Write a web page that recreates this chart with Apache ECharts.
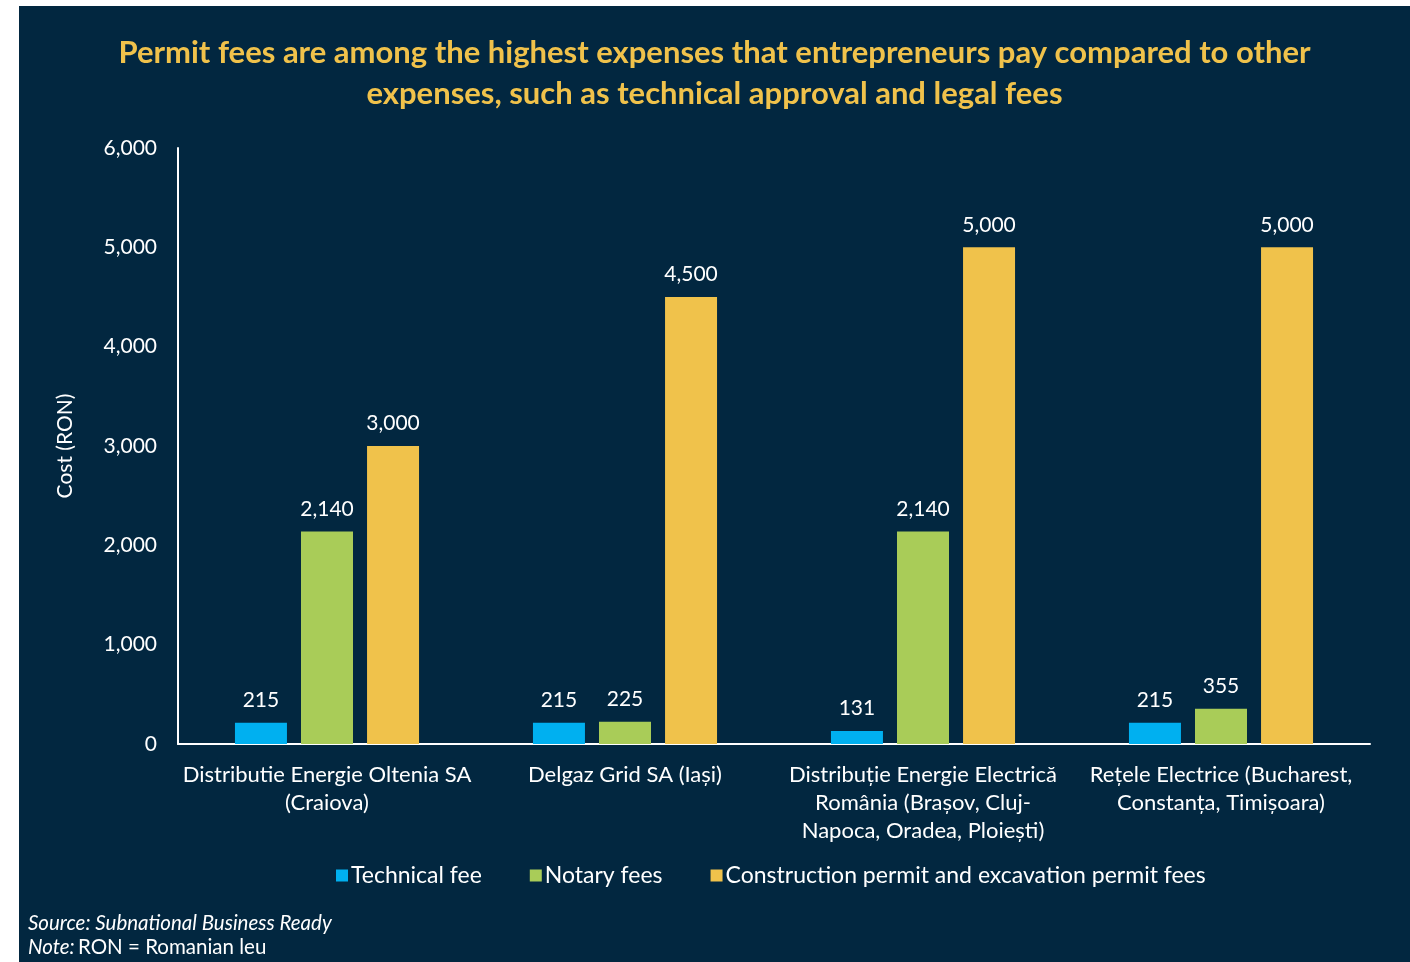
<!DOCTYPE html>
<html><head><meta charset="utf-8">
<script src="https://cdn.jsdelivr.net/npm/echarts@6/dist/echarts.min.js"></script>
<style>html,body{margin:0;padding:0;background:#fff;}#c{position:absolute;left:19px;top:6px;width:1391px;height:956px;}</style>
</head><body><div id="c"></div>
<script>
const categories = [
  "Distributie Energie Oltenia SA\n(Craiova)",
  "Delgaz Grid SA (Iași)",
  "Distribuție Energie Electrică\nRomânia (Brașov, Cluj-\nNapoca, Oradea, Ploiești)",
  "Rețele Electrice (Bucharest,\nConstanța, Timișoara)"
];
const technicalFee = [215, 215, 131, 215];
const notaryFees = [2140, 225, 2140, 355];
const permitFees = [3000, 4500, 5000, 5000];
const seriesNames = ["Technical fee", "Notary fees", "Construction permit and excavation permit fees"];
const titleText = "Permit fees are among the highest expenses that entrepreneurs pay compared to other\nexpenses, such as technical approval and legal fees";

const FONT = "Lato";
const chart = echarts.init(document.getElementById('c'));
const lbl = {show:true, position:'top', distance:12, color:'#fff', fontSize:21, fontFamily:FONT,
  formatter: p => p.value.toLocaleString('en-US')};
chart.setOption({
  backgroundColor:'#022740',
  animation:false,
  title:{text:titleText, left:'center', top:21,
    textStyle:{color:'#f0c24b', fontSize:31, fontWeight:'bold', fontFamily:FONT, lineHeight:41}},
  grid:{left:159, right:40, top:142, bottom:218},
  legend:{bottom:70, left:312, itemWidth:12, itemHeight:12, itemGap:48, icon:'rect',
    textStyle:{color:'#fff', fontSize:23, fontFamily:FONT, padding:[0,0,0,-2]}},
  xAxis:{type:'category', data:categories,
    axisLine:{lineStyle:{color:'#fff', width:2}}, axisTick:{show:false},
    axisLabel:{color:'#fff', fontSize:22, fontFamily:FONT, lineHeight:28, margin:17, interval:0}},
  yAxis:{type:'value', min:0, max:6000, interval:1000, name:'Cost (RON)', nameLocation:'middle', nameGap:102,
    nameTextStyle:{color:'#fff', fontSize:21, fontFamily:FONT},
    axisLine:{show:true, lineStyle:{color:'#fff', width:2}}, splitLine:{show:false}, axisTick:{show:false},
    axisLabel:{color:'#fff', fontSize:21, fontFamily:FONT, margin:21, formatter:v=>v.toLocaleString('en-US')}},
  series:[
    {name:seriesNames[0], type:'bar', data:technicalFee, barWidth:52, barGap:'27%', itemStyle:{color:'#00b0f0'}, label:lbl},
    {name:seriesNames[1], type:'bar', data:notaryFees, barWidth:52, barGap:'27%', itemStyle:{color:'#a9cc58'}, label:lbl},
    {name:seriesNames[2], type:'bar', data:permitFees, barWidth:52, barGap:'27%', itemStyle:{color:'#f0c24b'}, label:lbl}
  ],
  graphic:[{type:'text', left:9, top:907, style:{
    text:'{i|Source: Subnational Business Ready}\n{i|Note:} {n|RON = Romanian leu}',
    rich:{i:{fontStyle:'italic', fill:'#fff', fontSize:20.5, fontFamily:FONT, lineHeight:24},
          n:{fill:'#fff', fontSize:20.5, fontFamily:FONT, lineHeight:24}}, fill:'#fff'}}]
});
</script></body></html>
